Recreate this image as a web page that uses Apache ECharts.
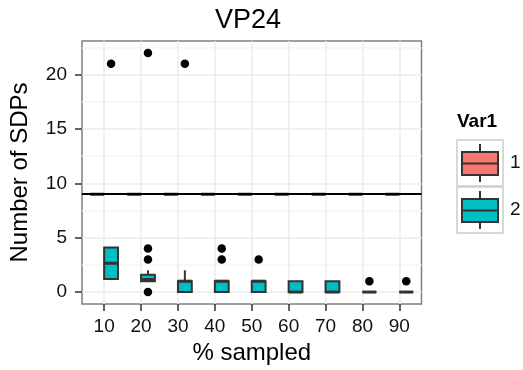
<!DOCTYPE html>
<html>
<head>
<meta charset="utf-8">
<script src="https://cdn.jsdelivr.net/npm/echarts@6/dist/echarts.min.js"></script>
<style>
  html, body { margin: 0; padding: 0; background: #fff; }
  #chart { width: 523px; height: 370px; }
</style>
</head>
<body>
<div id="chart"></div>
<script>
const categories = ['10', '20', '30', '40', '50', '60', '70', '80', '90']

// box stats per category: [min, q1, median, q3, max]
const var1Boxes = [
  [9, 9, 9, 9, 9],
  [9, 9, 9, 9, 9],
  [9, 9, 9, 9, 9],
  [9, 9, 9, 9, 9],
  [9, 9, 9, 9, 9],
  [9, 9, 9, 9, 9],
  [9, 9, 9, 9, 9],
  [9, 9, 9, 9, 9],
  [9, 9, 9, 9, 9],
]
const var2Boxes = [
  [1.1, 1.2, 2.65, 4.1, 4.1],
  [1, 1, 1.15, 1.6, 2],
  [0, 0, 1, 1, 2],
  [0, 0, 1, 1, 1],
  [0, 0, 1, 1, 1],
  [0, 0, 0, 1, 1],
  [0, 0, 0, 1, 1],
  [0, 0, 0, 0, 0],
  [0, 0, 0, 0, 0],
]
const var2Outliers = [
  ['10', 21],
  ['20', 22], ['20', 4], ['20', 3], ['20', 0],
  ['30', 21],
  ['40', 4], ['40', 3],
  ['50', 3],
  ['80', 1],
  ['90', 1],
]
const refLine = 9
const yTicks = [0, 5, 10, 15, 20]
const legendLabels = ['1', '2']

const FONT = 'Liberation Sans, Arial, sans-serif'
const COLORS = ['#F8766D', '#00BFC4']
const DODGE = 0.1875
const BOX_W = 0.375
const xTicks = categories.map((c, i) => i + 1)

function boxItem(fill, dodge) {
  return function (params, api) {
    const x = api.value(0) + dodge
    const left = api.coord([x - BOX_W / 2, 0])[0]
    const right = api.coord([x + BOX_W / 2, 0])[0]
    const cx = api.coord([x, 0])[0]
    const yAt = i => api.coord([x, api.value(i)])[1]
    const yMin = yAt(1), yQ1 = yAt(2), yMed = yAt(3), yQ3 = yAt(4), yMax = yAt(5)
    const line = { stroke: '#333333', lineWidth: 2 }
    return {
      type: 'group',
      children: [
        { type: 'line', shape: { x1: cx, y1: yQ3, x2: cx, y2: yMax }, style: line },
        { type: 'line', shape: { x1: cx, y1: yQ1, x2: cx, y2: yMin }, style: line },
        {
          type: 'rect',
          shape: { x: left, y: yQ3, width: right - left, height: yQ1 - yQ3 },
          style: { fill, stroke: '#333333', lineWidth: 2 },
        },
        { type: 'line', shape: { x1: left, y1: yMed, x2: right, y2: yMed }, style: { stroke: '#333333', lineWidth: 3 } },
      ],
    }
  }
}

function legendKey(top, color, label) {
  const x0 = 457
  return [
    { type: 'rect', shape: { x: x0, y: top, width: 46, height: 46 }, style: { fill: '#fff', stroke: '#cccccc', lineWidth: 1.5 } },
    { type: 'line', shape: { x1: x0 + 23, y1: top + 4, x2: x0 + 23, y2: top + 12 }, style: { stroke: '#333333', lineWidth: 2 } },
    { type: 'line', shape: { x1: x0 + 23, y1: top + 35, x2: x0 + 23, y2: top + 42 }, style: { stroke: '#333333', lineWidth: 2 } },
    { type: 'rect', shape: { x: x0 + 5, y: top + 12, width: 36, height: 23 }, style: { fill: color, stroke: '#333333', lineWidth: 2 } },
    { type: 'line', shape: { x1: x0 + 5, y1: top + 23.5, x2: x0 + 41, y2: top + 23.5 }, style: { stroke: '#333333', lineWidth: 2 } },
    { type: 'text', x: x0 + 53, y: top + 23, style: { text: label, font: '19px ' + FONT, fill: '#111', verticalAlign: 'middle' } },
  ]
}

const chart = echarts.init(document.getElementById('chart'), null, { renderer: 'canvas' })

chart.setOption({
  animation: false,
  backgroundColor: '#fff',
  title: {
    text: 'VP24',
    left: 248,
    top: 7,
    padding: 0,
    textAlign: 'center',
    textStyle: { fontFamily: FONT, fontSize: 27, fontWeight: 'normal', color: '#000' },
  },
  grid: {
    left: 77,
    right: 101.5,
    top: 41,
    bottom: 64,
    show: true,
    borderColor: '#7f7f7f',
    borderWidth: 1.5,
    backgroundColor: '#fff',
  },
  xAxis: {
    type: 'value',
    min: 0.4,
    max: 9.6,
    name: '% sampled',
    nameLocation: 'middle',
    nameGap: 37,
    nameTextStyle: { fontFamily: FONT, fontSize: 24, color: '#000' },
    axisLine: { show: false, onZero: false },
    axisTick: { show: true, length: 7, customValues: xTicks, lineStyle: { color: '#333333', width: 1.5 } },
    axisLabel: {
      customValues: xTicks,
      formatter: v => categories[Math.round(v) - 1],
      fontFamily: FONT, fontSize: 19, color: '#111', margin: 13,
    },
    splitLine: { show: true, lineStyle: { color: '#ebebeb', width: 1.5 } },
  },
  yAxis: {
    type: 'value',
    min: -1.1,
    max: 23.1,
    name: 'Number of SDPs',
    nameLocation: 'middle',
    nameGap: 50,
    nameTextStyle: { fontFamily: FONT, fontSize: 24, color: '#000' },
    axisLine: { show: false, onZero: false },
    axisTick: { show: true, length: 7, customValues: yTicks, lineStyle: { color: '#333333', width: 1.5 } },
    axisLabel: { customValues: yTicks, fontFamily: FONT, fontSize: 19, color: '#111', margin: 15 },
    splitLine: { show: true, lineStyle: { color: '#ebebeb', width: 1.5 } },
    minorTick: { show: false, splitNumber: 2 },
    minorSplitLine: { show: true, lineStyle: { color: '#f6f6f6', width: 1.5 } },
  },
  series: [
    {
      name: '1',
      type: 'custom',
      renderItem: boxItem(COLORS[0], -DODGE),
      encode: { x: 0, y: [1, 2, 3, 4, 5] },
      data: var1Boxes.map((b, i) => [i + 1, ...b]),
      z: 2,
    },
    {
      name: '2',
      type: 'custom',
      renderItem: boxItem(COLORS[1], DODGE),
      encode: { x: 0, y: [1, 2, 3, 4, 5] },
      data: var2Boxes.map((b, i) => [i + 1, ...b]),
      z: 2,
    },
    {
      name: 'outliers',
      type: 'scatter',
      symbol: 'circle',
      symbolSize: 8.5,
      itemStyle: { color: '#000', opacity: 1 },
      data: var2Outliers.map(([c, v]) => [categories.indexOf(c) + 1 + DODGE, v]),
      z: 3,
      markLine: {
        silent: true,
        symbol: 'none',
        z: 4,
        label: { show: false },
        lineStyle: { color: '#000', width: 2, type: 'solid', opacity: 1 },
        data: [{ yAxis: refLine }],
      },
    },
  ],
  graphic: [
    {
      type: 'group',
      children: [
        { type: 'text', x: 457, y: 122, style: { text: 'Var1', font: 'bold 19px ' + FONT, fill: '#000', verticalAlign: 'middle' } },
        ...legendKey(140, COLORS[0], legendLabels[0]),
        ...legendKey(187, COLORS[1], legendLabels[1]),
      ],
    },
  ],
})
</script>
</body>
</html>
